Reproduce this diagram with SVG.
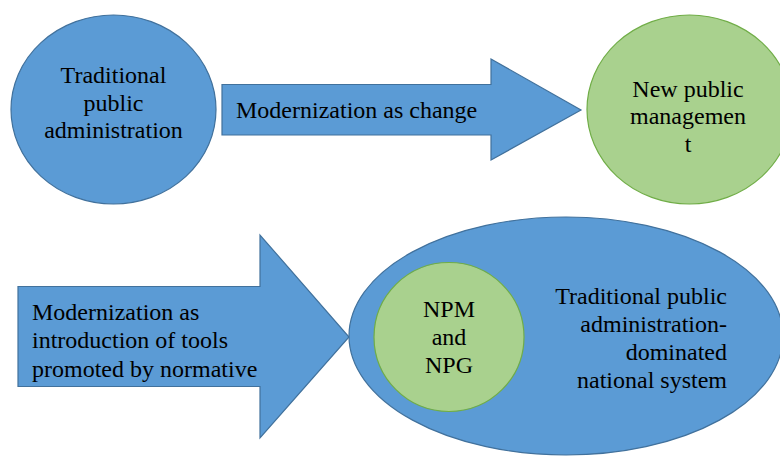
<svg xmlns="http://www.w3.org/2000/svg" width="780" height="456" viewBox="0 0 780 456">
  <style>
    .blue { fill: #5B9BD5; stroke: #41719C; stroke-width: 1.2; }
    .green { fill: #A9D18E; stroke: #70AD47; stroke-width: 1.2; }
    text { font-family: "Liberation Serif", "Times New Roman", serif; font-size: 24px; fill: #000; }
    .c { text-anchor: middle; }
    .r { text-anchor: end; }
  </style>
  <rect width="780" height="456" fill="#fff"/>

  <!-- block arrows carrying their labels -->
  <g id="connectors">
    <g id="arrow-change">
      <path class="blue" d="M222,84.5 H491 V59 L581,110 L491,160 V135 H222 Z"/>
      <text x="236" y="118">Modernization as change</text>
    </g>
    <g id="arrow-tools">
      <path class="blue" d="M18,286.5 H260 V235 L349,337 L260,438 V386.5 H18 Z"/>
      <text x="32" y="320">Modernization as</text>
      <text x="32" y="348">introduction of tools</text>
      <text x="32" y="376.5">promoted by normative</text>
    </g>
  </g>

  <g id="traditional-pa">
    <ellipse class="blue" cx="113.5" cy="109.5" rx="102.5" ry="94.5"/>
    <text class="c" x="113.5" y="83">Traditional</text>
    <text class="c" x="113.5" y="110.5">public</text>
    <text class="c" x="113.5" y="138">administration</text>
  </g>

  <g id="new-public-management">
    <ellipse class="green" cx="689.5" cy="109.5" rx="102.5" ry="94.5"/>
    <text class="c" x="688" y="96.5">New public</text>
    <text class="c" x="688" y="124">managemen</text>
    <text class="c" x="688" y="151.5">t</text>
  </g>

  <g id="national-system">
    <ellipse class="blue" cx="566" cy="336" rx="217" ry="119"/>
    <text class="r" x="727" y="303.5">Traditional public</text>
    <text class="r" x="727" y="331.5">administration-</text>
    <text class="r" x="727" y="360">dominated</text>
    <text class="r" x="727" y="388">national system</text>
  </g>

  <g id="npm-npg">
    <ellipse class="green" cx="449" cy="337" rx="75" ry="74.5"/>
    <text class="c" x="449" y="316.5">NPM</text>
    <text class="c" x="449" y="345">and</text>
    <text class="c" x="449" y="372.5">NPG</text>
  </g>
</svg>
